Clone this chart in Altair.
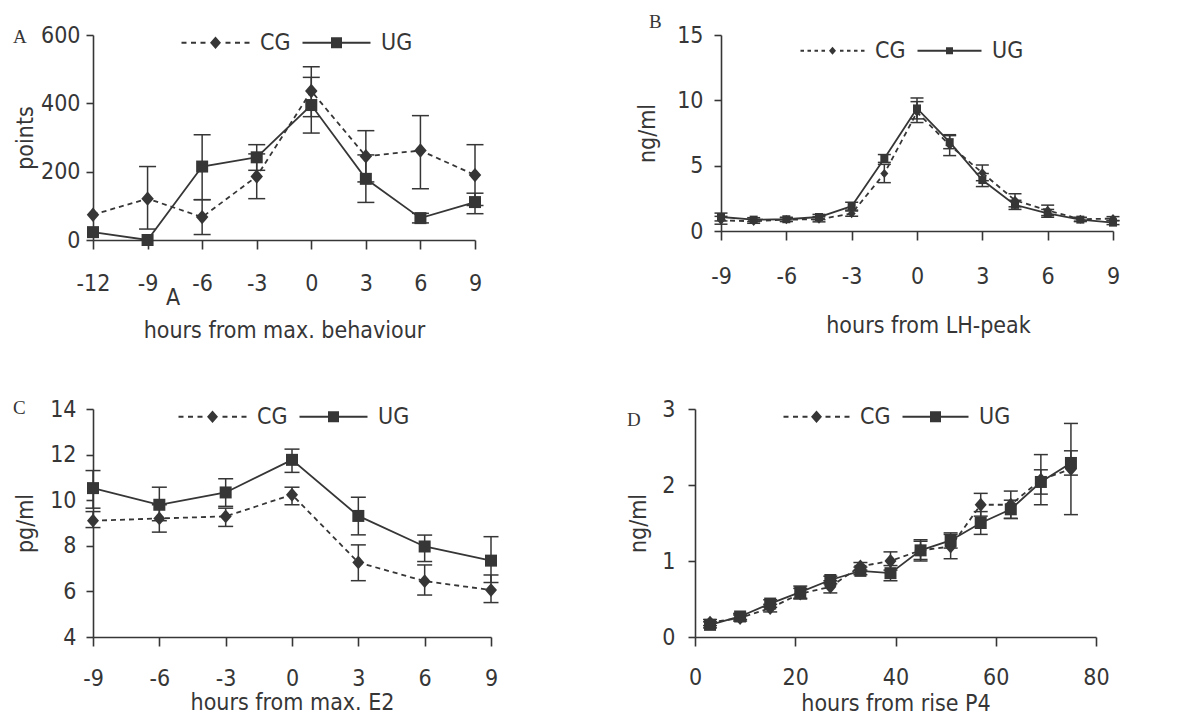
import altair as alt
import pandas as pd

FONT = "DejaVu Sans Condensed, DejaVu Sans, sans-serif"
SERIF = "Liberation Serif, Times New Roman, serif"
INK = "#363636"
FS = 23
GROUPS = ["CG", "UG"]

# ---------------- Panel A : behaviour ----------------
a_x = [-12, -9, -6, -3, 0, 3, 6, 9]
a_cg = [74, 121, 67, 186, 436, 245, 262, 190]
a_cg_lo = [None, 32, 16, 121, 361, 170, 150, 101]
a_cg_hi = [None, 215, 118, 252, 507, 320, 364, 279]
a_ug = [23, 0, 215, 242, 395, 179, 64, 111]
a_ug_lo = [None, None, 118, 204, 313, 110, 50, 77]
a_ug_hi = [None, None, 308, 279, 476, 249, 78, 137]
a_xticks = [-12, -9, -6, -3, 0, 3, 6, 9]
a_yticks = [0, 200, 400, 600]

# ---------------- Panel B : LH ----------------
b_x = [-9, -7.5, -6, -4.5, -3, -1.5, 0, 1.5, 3, 4.5, 6, 7.5, 9]
b_cg = [0.82, 0.74, 0.87, 0.9, 1.33, 4.4, 9.1, 6.57, 4.45, 2.35, 1.58, 0.9, 0.95]
b_cg_err = [0.3, 0.15, 0.15, 0.2, 0.2, 0.7, 0.8, 0.8, 0.6, 0.5, 0.4, 0.15, 0.15]
b_ug = [1.07, 0.87, 0.9, 1.07, 1.9, 5.55, 9.38, 6.8, 3.9, 2.0, 1.35, 0.87, 0.64]
b_ug_err = [0.3, 0.15, 0.15, 0.2, 0.3, 0.3, 0.8, 0.5, 0.5, 0.35, 0.3, 0.15, 0.15]
b_xticks = [-9, -6, -3, 0, 3, 6, 9]
b_yticks = [0, 5, 10, 15]

# ---------------- Panel C : E2 ----------------
c_x = [-9, -6, -3, 0, 3, 6, 9]
c_cg = [9.1, 9.2, 9.29, 10.24, 7.27, 6.45, 6.06]
c_cg_lo = [8.8, 8.6, 8.85, 9.8, 6.47, 5.84, 5.51]
c_cg_hi = [9.5, 9.8, 9.65, 10.57, 8.04, 7.16, 6.72]
c_ug = [10.53, 9.8, 10.34, 11.77, 9.31, 7.97, 7.35]
c_ug_lo = [9.65, 9.1, 9.73, 11.22, 8.48, 7.31, 6.39]
c_ug_hi = [11.3, 10.57, 10.94, 12.24, 10.13, 8.47, 8.4]
c_xticks = [-9, -6, -3, 0, 3, 6, 9]
c_yticks = [4, 6, 8, 10, 12, 14]

# ---------------- Panel D : P4 ----------------
d_x = [3, 9, 15, 21, 27, 33, 39, 45, 51, 57, 63, 69, 75]
d_cg = [0.19, 0.25, 0.38, 0.57, 0.66, 0.93, 1.0, 1.14, 1.19, 1.74, 1.74, 2.07, 2.21]
d_cg_err = [0.04, 0.04, 0.05, 0.07, 0.08, 0.05, 0.12, 0.12, 0.16, 0.15, 0.18, 0.33, 0.6]
d_ug = [0.16, 0.27, 0.44, 0.59, 0.75, 0.87, 0.84, 1.14, 1.27, 1.5, 1.68, 2.04, 2.29]
d_ug_err = [0.04, 0.04, 0.05, 0.08, 0.05, 0.05, 0.1, 0.14, 0.1, 0.15, 0.12, 0.16, 0.16]
d_xticks = [0, 20, 40, 60, 80]
d_yticks = [0, 1, 2, 3]


def pm(vals, errs, sign):
    return [round(v + sign * e, 3) for v, e in zip(vals, errs)]


def fmt(v):
    return ("%.3f" % v).rstrip("0").rstrip(".")


def bar(x1, x2, h):
    return "M%s,%sH%sV%sH%sZ" % (fmt(x1), fmt(-h), fmt(x2), fmt(h), fmt(x1))


def legend_paths(unit, half_px, dash_px, gap_px, thick_px=1.8):
    """Legend glyphs (line + marker) as filled SVG paths in Vega's symbol units."""
    L = half_px / unit
    d, g = dash_px / unit, gap_px / unit
    h = thick_px / 2 / unit
    segs = []
    s = -L
    while s + d <= -1.15:
        segs.append(bar(s, s + d, h))
        segs.append(bar(-s - d, -s, h))
        s += d + g
    cg = "".join(segs) + "M0,-1.15L1,0L0,1.15L-1,0Z"
    ug = bar(-L, -1, h) + bar(1, L, h) + "M-1,-1H1V1H-1Z"
    return cg, ug


DIAMOND = "M0,-1.15L1,0L0,1.15L-1,0Z"
LABEL_EXPR = "'' + datum.value"


def note(text, px, py, font, size):
    return alt.Chart(pd.DataFrame({"t": [text]})).mark_text(
        color=INK, align="left", baseline="middle", font=font, fontSize=size
    ).encode(text="t:N", x=alt.value(px), y=alt.value(py))


def panel(x, cg, cg_lo, cg_hi, ug, ug_lo, ug_hi, c):
    rows = []
    for g, ys, los, his in (("CG", cg, cg_lo, cg_hi), ("UG", ug, ug_lo, ug_hi)):
        for xi, yi, lo, hi in zip(x, ys, los, his):
            rows.append(dict(x=xi, y=yi, lo=lo, hi=hi, g=g))
    df = pd.DataFrame(rows)

    xs = alt.Scale(domain=c["xdom"], nice=False, zero=False)
    ys = alt.Scale(domain=c["ydom"], nice=False, zero=False)
    xaxis = alt.Axis(values=c["xticks"], title=c["xtitle"], tickSize=9,
                     labelPadding=c["xlp"], titleX=c["w"] / 2 + c.get("xtdx", 0),
                     titleY=c["xty"], titleBaseline="middle", titleAlign="center",
                     labelFlush=False, labelOverlap=False, labelExpr=LABEL_EXPR)
    yaxis = alt.Axis(values=c["yticks"], title=c["ytitle"], tickSize=7,
                     labelPadding=c["ylp"], titleX=c["ytx"], titleY=c["h"] / 2,
                     titleAngle=-90, titleBaseline="middle", titleAlign="center",
                     labelFlush=False, labelOverlap=False, labelExpr=LABEL_EXPR)
    X = alt.X("x:Q", scale=xs, axis=xaxis)
    Y = alt.Y("y:Q", scale=ys, axis=yaxis)
    Ylo = alt.Y("lo:Q", scale=ys, axis=yaxis)
    Yhi = alt.Y("hi:Q", scale=ys, axis=yaxis)

    base = alt.Chart(df)
    err = base.transform_filter("isValid(datum.lo)")
    cg_d = base.transform_filter("datum.g == 'CG'")
    ug_d = base.transform_filter("datum.g == 'UG'")

    line_cg = cg_d.mark_line(color=INK, strokeWidth=1.8, strokeDash=[5, 4]).encode(x=X, y=Y)
    line_ug = ug_d.mark_line(color=INK, strokeWidth=1.8).encode(x=X, y=Y)
    bars = err.mark_rule(color=INK, strokeWidth=1.5).encode(x=X, y=Ylo, y2="hi:Q")
    cap_lo = err.mark_rule(color=INK, strokeWidth=1.5, xOffset=-c["cap"],
                           x2Offset=c["cap"]).encode(x=X, x2="x:Q", y=Ylo)
    cap_hi = err.mark_rule(color=INK, strokeWidth=1.5, xOffset=-c["cap"],
                           x2Offset=c["cap"]).encode(x=X, x2="x:Q", y=Yhi)
    pt_cg = cg_d.mark_point(shape=DIAMOND, size=c["dsize"], filled=True, color=INK,
                            opacity=1).encode(x=X, y=Y)
    pt_ug = ug_d.mark_point(shape="square", size=c["ssize"], filled=True, color=INK,
                            opacity=1).encode(x=X, y=Y)

    pcg, pug = legend_paths(c["lu"], c["lhalf"], c["ldash"], c["lgap"])
    leg = base.mark_point(opacity=0, filled=True, color=INK).encode(
        x=X, y=Y,
        shape=alt.Shape("g:N", scale=alt.Scale(domain=GROUPS, range=[pcg, pug]),
                        legend=alt.Legend(title=None, orient="none", direction="horizontal",
                                          legendX=c["legx"], legendY=c["legy"],
                                          symbolSize=(2 * c["lu"]) ** 2,
                                          symbolStrokeWidth=0, symbolFillColor=INK,
                                          symbolOpacity=1,
                                          symbolOffset=c["lhalf"] - 10,
                                          labelOffset=c["lhalf"] + 9 - 10,
                                          columnPadding=10, labelFont=FONT,
                                          labelFontSize=FS, labelColor=INK)))

    notes = [note(*t) for t in c["texts"]]

    return alt.layer(line_cg, line_ug, bars, cap_lo, cap_hi, pt_cg, pt_ug, leg, *notes).properties(
        width=c["w"], height=c["h"])


A = panel(a_x, a_cg, a_cg_lo, a_cg_hi, a_ug, a_ug_lo, a_ug_hi, dict(
    w=382, h=205, xdom=[-12, 9], ydom=[0, 600], xticks=a_xticks, yticks=a_yticks,
    xtitle="hours from max. behaviour", ytitle="points", xlp=23, xty=90, ylp=6, ytx=-68,
    cap=8.5, dsize=156, ssize=144, lu=5.5, lhalf=34, ldash=5, lgap=4.5, legx=87, legy=-4,
    texts=[("A", -80, 2, SERIF, 19), ("A", 73, 263, FONT, FS)]))

B = panel(b_x, b_cg, pm(b_cg, b_cg_err, -1), pm(b_cg, b_cg_err, 1),
          b_ug, pm(b_ug, b_ug_err, -1), pm(b_ug, b_ug_err, 1), dict(
    w=392, h=196, xdom=[-9, 9], ydom=[0, 15], xticks=b_xticks, yticks=b_yticks,
    xtitle="hours from LH-peak", ytitle="ng/ml", xlp=25, xty=94, xtdx=11, ylp=11, ytx=-74,
    cap=6.5, dsize=64, ssize=64, lu=3.5, lhalf=32, ldash=3.5, lgap=3.5, legx=78, legy=4,
    texts=[("B", -72, -13, SERIF, 19)]))

C = panel(c_x, c_cg, c_cg_lo, c_cg_hi, c_ug, c_ug_lo, c_ug_hi, dict(
    w=398, h=228, xdom=[-9, 9], ydom=[4, 14], xticks=c_xticks, yticks=c_yticks,
    xtitle="hours from max. E2", ytitle="pg/ml", xlp=21, xty=65, ylp=10, ytx=-68,
    cap=7.5, dsize=144, ssize=144, lu=5.5, lhalf=34, ldash=5, lgap=4.5, legx=84, legy=-4,
    texts=[("C", -80, -1, SERIF, 19)]))

D = panel(d_x, d_cg, pm(d_cg, d_cg_err, -1), pm(d_cg, d_cg_err, 1),
          d_ug, pm(d_ug, d_ug_err, -1), pm(d_ug, d_ug_err, 1), dict(
    w=401, h=228, xdom=[0, 80], ydom=[0, 3], xticks=d_xticks, yticks=d_yticks,
    xtitle="hours from rise P4", ytitle="ng/ml", xlp=20, xty=66, ylp=13, ytx=-57,
    cap=7, dsize=144, ssize=144, lu=5.5, lhalf=33, ldash=5, lgap=4.5, legx=87, legy=-4,
    texts=[("D", -68, 11, SERIF, 19)]))

top = alt.hconcat(A, B, spacing=246, bounds="flush").resolve_scale(
    shape="independent").resolve_legend(shape="independent")
bottom = alt.hconcat(C, D, spacing=204, bounds="flush").resolve_scale(
    shape="independent").resolve_legend(shape="independent")

chart = alt.vconcat(top, bottom, spacing=56).resolve_scale(
    shape="independent").resolve_legend(shape="independent").configure_view(
    stroke=None).configure_axis(
    domainColor=INK, tickColor=INK, labelColor=INK, titleColor=INK,
    labelFont=FONT, titleFont=FONT, labelFontSize=FS, titleFontSize=FS,
    titleFontWeight="normal", grid=False, domainWidth=1.6, tickWidth=1.6
).properties(background="white")

chart.save("out.html", embed_options={"renderer": "svg", "actions": False})
